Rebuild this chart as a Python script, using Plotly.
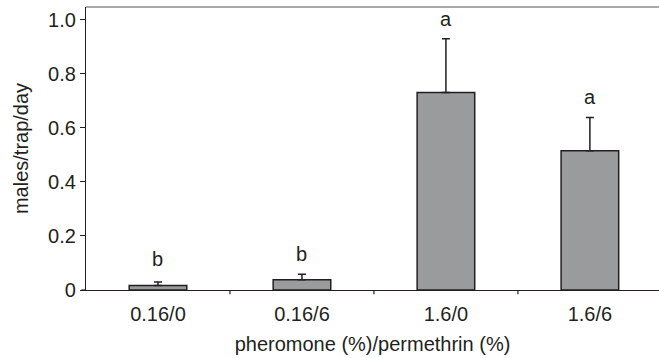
import plotly.graph_objects as go

categories = ["0.16/0", "0.16/6", "1.6/0", "1.6/6"]
means = [0.017, 0.038, 0.731, 0.516]
err_plus = [0.013, 0.020, 0.199, 0.123]
letters = ["b", "b", "a", "a"]
y_ticks = [0, 0.2, 0.4, 0.6, 0.8, 1.0]
y_tick_text = ["0", "0.2", "0.4", "0.6", "0.8", "1.0"]

FONT = "Liberation Sans, Arial, sans-serif"
TXT = "#231f20"
FS = 20

fig = go.Figure()
fig.add_trace(go.Bar(
    x=list(range(len(categories))), y=means, width=0.4,
    marker=dict(color="#9a9b9d", line=dict(color="#231f20", width=1.5)),
    error_y=dict(type="data", array=err_plus, arrayminus=[0]*len(means),
                 symmetric=False, color="#231f20", thickness=1.5, width=4),
))

for i, (m, e, l) in enumerate(zip(means, err_plus, letters)):
    top = max(m + e, 0.04)
    fig.add_annotation(x=i, y=top + 0.075, text=l, showarrow=False,
                       font=dict(family=FONT, size=FS, color=TXT),
                       xref="x", yref="y")

fig.add_shape(type="line", xref="paper", yref="paper", x0=0, x1=1, y0=1, y1=1,
              line=dict(color="#555555", width=1.2))

fig.update_layout(
    width=659, height=358,
    margin=dict(l=86, r=0, t=7, b=68),
    plot_bgcolor="white", paper_bgcolor="white",
    showlegend=False,
    font=dict(family=FONT, size=FS, color=TXT),
)
fig.update_xaxes(
    range=[-0.5, 3.48], tickmode="array", tickvals=list(range(len(categories))),
    ticktext=categories, showline=True, linecolor="#231f20", linewidth=1.2,
    ticks="", ticklabelstandoff=6, showgrid=False, zeroline=False, automargin=False,
    title=dict(text="pheromone (%)/permethrin (%)", font=dict(size=FS, family=FONT, color=TXT), standoff=12),
    tickfont=dict(size=FS, family=FONT, color=TXT),
)
fig.update_yaxes(
    range=[0, 1.048], tickmode="array", tickvals=y_ticks, ticktext=y_tick_text,
    showline=True, linecolor="#231f20", linewidth=1.2, ticks="outside", ticklen=5,
    tickcolor="#231f20", tickwidth=1.2, showgrid=False, zeroline=False, automargin=False,
    title=dict(text="males/trap/day", font=dict(size=FS, family=FONT, color=TXT), standoff=14),
    tickfont=dict(size=FS, family=FONT, color=TXT),
)

# category separator ticks on x axis
for b in [0.5, 1.5, 2.5]:
    fig.add_shape(type="line", xref="x", yref="paper", x0=b, x1=b, y0=0, y1=-0.015,
                  line=dict(color="#231f20", width=1.2))
fig.add_shape(type="line", xref="paper", yref="paper", x0=-0.008, x1=0, y0=0, y1=0,
              line=dict(color="#231f20", width=1.2))

fig.write_html("out.html", config={"displayModeBar": False},
               post_script="document.body.style.margin='0';")
